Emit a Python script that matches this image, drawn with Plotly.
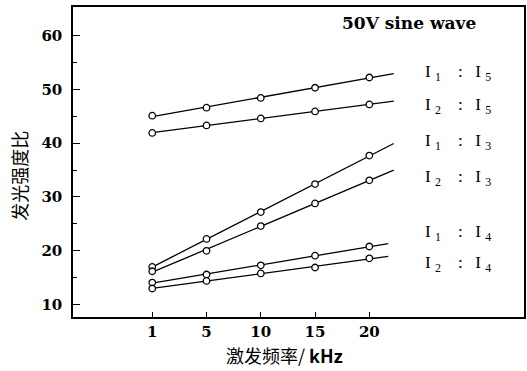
import numpy as np
import plotly.graph_objects as go

# ---- data ----
freq_labels = ["1", "5", "10", "15", "20"]          # excitation frequency, kHz
series_names = ["I1:I5", "I2:I5", "I1:I3", "I2:I3", "I1:I4", "I2:I4"]
i1_i5 = [45.1, 46.6, 48.4, 50.3, 52.2]
i2_i5 = [41.9, 43.3, 44.6, 45.9, 47.2]
i1_i3 = [17.0, 22.2, 27.2, 32.4, 37.7]
i2_i3 = [16.2, 20.0, 24.6, 28.8, 33.1]
i1_i4 = [14.1, 15.6, 17.3, 19.1, 20.8]
i2_i4 = [13.0, 14.4, 15.8, 16.9, 18.6]
labels = [("1", "5"), ("2", "5"), ("1", "3"), ("2", "3"), ("1", "4"), ("2", "4")]
y_ticks = [10, 20, 30, 40, 50, 60]
y_minor = [15, 25, 35, 45, 55]

# layout-only positions
label_y = [53.0, 46.9, 40.3, 33.6, 23.4, 17.6]
line_end = [4.45, 4.45, 4.45, 4.45, 4.35, 4.35]

all_series = [i1_i5, i2_i5, i1_i3, i2_i3, i1_i4, i2_i4]
x_idx = np.arange(len(freq_labels))

fig = go.Figure()
for name, vals, xe in zip(series_names, all_series, line_end):
    coef = np.polyfit(x_idx, vals, 1)
    xl = np.array([0.0, xe])
    fig.add_trace(go.Scatter(x=xl, y=np.polyval(coef, xl), mode="lines",
                             line=dict(color="black", width=1.3),
                             showlegend=False, hoverinfo="skip"))
    fig.add_trace(go.Scatter(x=x_idx, y=vals, mode="markers", name=name,
                             marker=dict(symbol="circle", size=6.5, color="white",
                                         line=dict(color="black", width=1.3)),
                             showlegend=False))

nb = "\u00a0"
for (a, b), ly in zip(labels, label_y):
    txt = f"I{nb}<sub>{a}</sub>{nb*4}:{nb*3}I{nb}<sub>{b}</sub>"
    fig.add_annotation(x=0.775, xref="paper", y=ly, yref="y", text=txt,
                       showarrow=False, xanchor="left", yanchor="middle",
                       font=dict(family="Liberation Serif", size=17, color="black"))

fig.add_annotation(x=0.593, xref="paper", y=62.3, yref="y", text="50V sine wave",
                   showarrow=False, xanchor="left", yanchor="middle",
                   font=dict(family="DejaVu Serif", size=17, color="black", weight="bold"))

# axis titles as annotations
fig.add_annotation(x=-0.12, xref="paper", y=0.455, yref="paper",
                   text="发光强度比", textangle=-90, showarrow=False,
                   xanchor="center", yanchor="middle",
                   font=dict(family="Noto Sans CJK SC", size=18, color="black"))
fig.add_annotation(x=0.469, xref="paper", y=-0.122, yref="paper",
                   text="激发频率/ <b>kHz</b>", showarrow=False,
                   xanchor="center", yanchor="middle",
                   font=dict(family="Noto Sans CJK SC", size=18, color="black"))

fig.update_xaxes(range=[-1.46, 6.85], tickvals=list(x_idx), ticktext=freq_labels,
                 ticks="inside", ticklen=5, tickwidth=1.3, tickcolor="black",
                 showline=True, linecolor="black", linewidth=1.5, mirror=True,
                 showgrid=False, zeroline=False,
                 tickfont=dict(family="DejaVu Serif", size=15, color="black", weight="bold"))
fig.update_yaxes(range=[7.7, 65.3], tickvals=y_ticks,
                 ticks="inside", ticklen=7, tickwidth=1.3, tickcolor="black",
                 minor=dict(tickvals=y_minor, ticks="inside", ticklen=4,
                            tickcolor="black", tickwidth=1.2),
                 showline=True, linecolor="black", linewidth=1.5, mirror=True,
                 showgrid=False, zeroline=False, ticklabelstandoff=6,
                 tickfont=dict(family="DejaVu Serif", size=15, color="black", weight="bold"))

fig.update_layout(width=527, height=371, margin=dict(l=73, r=1, t=7, b=54),
                  plot_bgcolor="white", paper_bgcolor="white", showlegend=False)

fig.write_html("out.html")
